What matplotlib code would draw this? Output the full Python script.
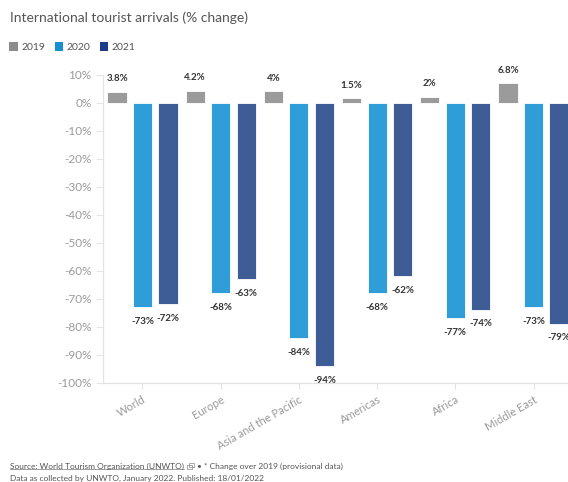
import matplotlib
matplotlib.use("Agg")
import matplotlib.pyplot as plt
from matplotlib.patches import Patch, Rectangle
from matplotlib.transforms import ScaledTranslation
import numpy as np

regions = ["World", "Europe", "Asia and the Pacific", "Americas", "Africa", "Middle East"]
years = ["2019", "2020", "2021"]
v2019 = [3.8, 4.2, 4.0, 1.5, 2.0, 6.8]
v2020 = [-73, -68, -84, -68, -77, -73]
v2021 = [-72, -63, -94, -62, -74, -79]
labels2019 = ["3.8%", "4.2%", "4%", "1.5%", "2%", "6.8%"]
yticks = [10, 0, -10, -20, -30, -40, -50, -60, -70, -80, -90, -100]

bar_colors = ["#9b9b9b", "#2f9ed8", "#3e5c95"]
legend_colors = ["#8c8c8c", "#1790d2", "#1f3c88"]

plt.rcParams['font.family'] = ['Lato', 'DejaVu Sans']

fig = plt.figure(figsize=(5.68, 4.82), dpi=100)
ax = fig.add_axes([0.1808, 0.2054, 1.0 - 0.1808, 0.8454 - 0.2054])

x = np.arange(len(regions))
off = 0.326
w = 0.245
series = [v2019, v2020, v2021]
for i, (vals, c) in enumerate(zip(series, bar_colors)):
    xs = x + (i - 1) * off
    ax.bar(xs, vals, width=w, color=c, edgecolor="white", linewidth=0.6, zorder=2)
    for j, (xx, v) in enumerate(zip(xs, vals)):
        if i == 0:
            txt = labels2019[j]
        else:
            txt = f"{v}%"
        dy = 9.5 if v > 0 else -10
        ax.annotate(txt, (xx, v), xytext=(0, dy), textcoords="offset points",
                    ha="center", va="center", fontsize=7, fontweight="bold",
                    color="#333333", annotation_clip=False)

ax.set_xlim(-0.509, 5.441)
ax.set_ylim(-100, 10)
ax.set_yticks(yticks)
ax.set_yticklabels([f"{t}%" for t in yticks])
ax.set_xticks(x)
ax.set_xticklabels(regions, rotation=30, ha="right", va="top", rotation_mode="anchor")
shift = ScaledTranslation(4 / 100, 2 / 100, fig.dpi_scale_trans)
for lab in ax.get_xticklabels():
    lab.set_transform(lab.get_transform() + shift)

for s in ["top", "right"]:
    ax.spines[s].set_visible(False)
for s in ["left", "bottom"]:
    ax.spines[s].set_color("#e3e3e3")
    ax.spines[s].set_linewidth(0.9)
ax.tick_params(axis="y", length=5, width=0.8, color="#e3e3e3", labelcolor="#9a9a9a",
               labelsize=8.5, pad=3)
ax.tick_params(axis="x", length=4, width=0.8, color="#e3e3e3", labelcolor="#9a9a9a",
               labelsize=8, pad=4)

fig.text(10 / 568, 1 - 18 / 482, "International tourist arrivals (% change)",
         fontsize=10, color="#555555", ha="left", va="center")

handles = [Patch(facecolor=c, edgecolor="none") for c in legend_colors]
fig.legend(handles, years, loc="center left", bbox_to_anchor=(0 / 568, 1 - 47 / 482),
           ncol=3, frameon=False, fontsize=7.5, handlelength=0.8, handleheight=1.0,
           handletextpad=0.35, columnspacing=0.9, labelcolor="#555555")

t1 = fig.text(10 / 568, 1 - 466 / 482, "Source: World Tourism Organization (UNWTO)",
              fontsize=6, color="#555555", ha="left", va="center")
fig.canvas.draw()
bb = t1.get_window_extent()
inv = fig.transFigure.inverted()
(x0, y0), (x1, y1) = inv.transform([[bb.x0, bb.y0], [bb.x1, bb.y1]])
fig.add_artist(plt.Line2D([x0, x1], [y0 + 0.002, y0 + 0.002], color="#777777",
                          linewidth=0.5, transform=fig.transFigure))
# small external-link icon (two overlapping squares)
px, py = 1 / 568, 1 / 482
ix = x1 + 3 * px
iy = 1 - 469 / 482
for dx, dy in [(0, 0), (2, 2)]:
    fig.add_artist(Rectangle((ix + dx * px, iy + dy * py), 4.5 * px, 4.5 * py,
                             fill=False, edgecolor="#888888", linewidth=0.5,
                             transform=fig.transFigure))
fig.text(ix + 10 * px, 1 - 466 / 482, "\u2022 * Change over 2019 (provisional data)",
         fontsize=6, color="#555555", ha="left", va="center")
fig.text(10 / 568, 1 - 478 / 482, "Data as collected by UNWTO, January 2022. Published: 18/01/2022",
         fontsize=6, color="#555555", ha="left", va="center")

fig.savefig("out.png", dpi=100)
